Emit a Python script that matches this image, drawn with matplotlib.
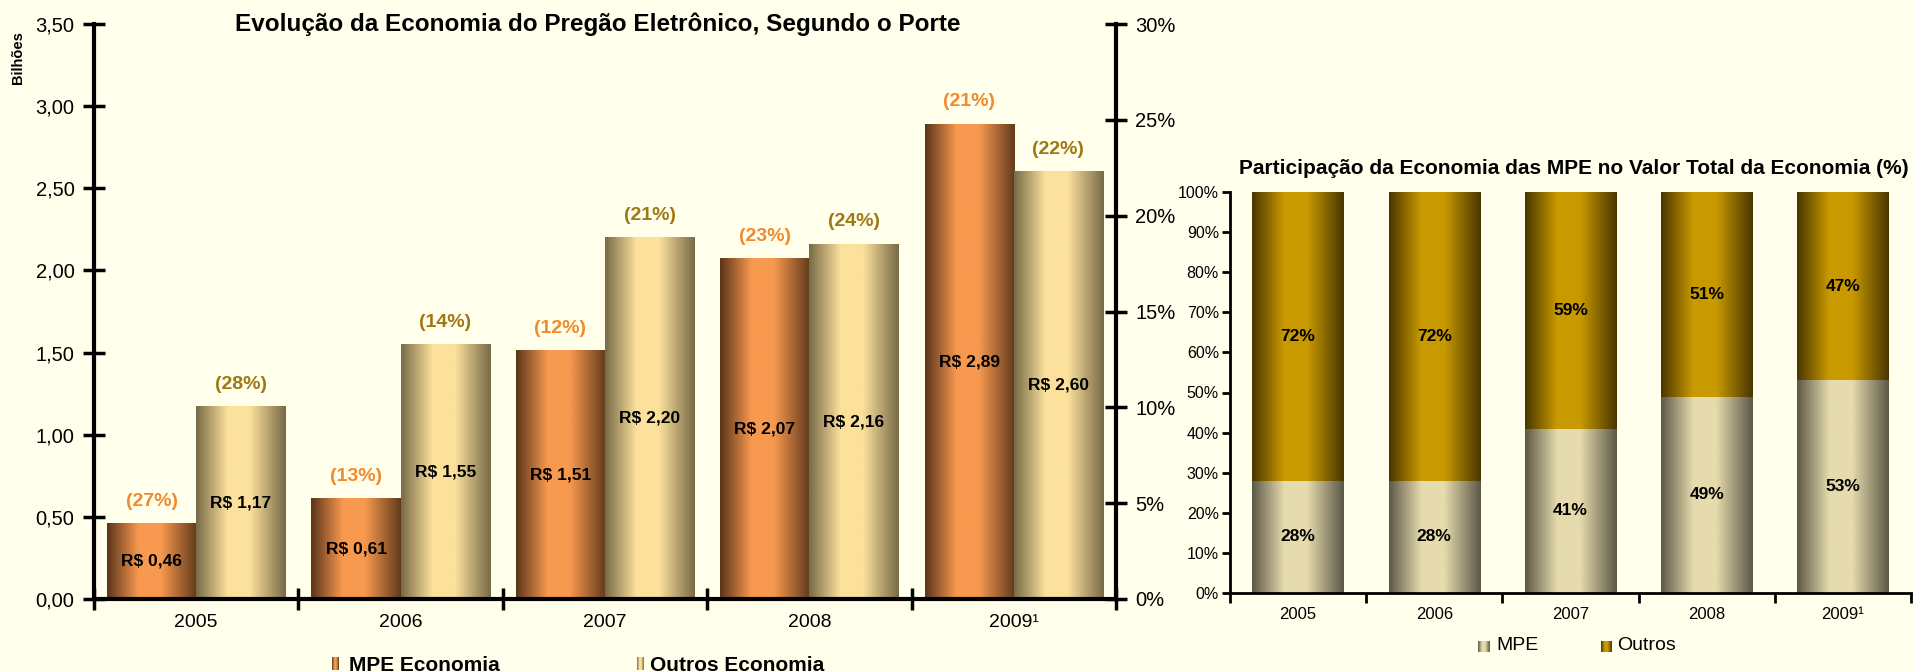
import numpy as np
import matplotlib
matplotlib.use('Agg')
import matplotlib.pyplot as plt
from matplotlib.colors import LinearSegmentedColormap
from matplotlib.ticker import FuncFormatter

plt.rcParams['font.family'] = ['Liberation Sans', 'DejaVu Sans']

# dados
anos = ['2005', '2006', '2007', '2008', '2009¹']
mpe_economia = [0.46, 0.61, 1.51, 2.07, 2.89]
outros_economia = [1.17, 1.55, 2.20, 2.16, 2.60]
mpe_var = ['(27%)', '(13%)', '(12%)', '(23%)', '(21%)']
outros_var = ['(28%)', '(14%)', '(21%)', '(24%)', '(22%)']
mpe_part = [28, 28, 41, 49, 53]
outros_part = [72, 72, 59, 51, 47]

fundo = '#FFFFEC'
W, H = 1915, 672


def cmap(nome, borda, centro, borda2=None):
    if borda2 is None:
        borda2 = borda
    return LinearSegmentedColormap.from_list(
        nome, [(0, borda), (0.35, centro), (0.6, centro), (1, borda2)])


cm_mpe = cmap('mpe', '#5A341A', '#F7994F', '#623A1C')
cm_out = cmap('out', '#786A48', '#FCE19C')
cm_mpe2 = cmap('mpe2', '#5C5847', '#E6DBAD')
cm_out2 = cmap('out2', '#493600', '#C99A00')

grad = np.linspace(0, 1, 256).reshape(1, -1)


def pinta(ax, barras, cm):
    for b in barras:
        x, y, w, h = b.get_x(), b.get_y(), b.get_width(), b.get_height()
        ax.imshow(grad, cmap=cm, extent=[x, x + w, y, y + h], aspect='auto',
                  interpolation='bilinear', zorder=2)


def fax(x0, y0, x1, y1):
    return fig.add_axes([x0 / W, 1 - y1 / H, (x1 - x0) / W, (y1 - y0) / H])


fig = plt.figure(figsize=(W / 100, H / 100), dpi=100, facecolor=fundo)

# grafico da esquerda
ax = fax(94, 24, 1116, 599)
ax.set_facecolor(fundo)
x = np.arange(len(anos))
w = 0.436
b1 = ax.bar(x - w / 2, mpe_economia, w, color='none', linewidth=0)
b2 = ax.bar(x + w / 2, outros_economia, w, color='none', linewidth=0)
pinta(ax, b1, cm_mpe)
pinta(ax, b2, cm_out)
ax.set_xlim(-0.5, len(anos) - 0.5)
ax.set_ylim(0, 3.5)

for b, v in zip(b1, mpe_economia):
    ax.text(b.get_x() + b.get_width() / 2, v / 2, 'R$ ' + f'{v:.2f}'.replace('.', ','),
            ha='center', va='center', fontsize=12.5, fontweight='bold', zorder=3)
for b, v in zip(b2, outros_economia):
    ax.text(b.get_x() + b.get_width() / 2, v / 2, 'R$ ' + f'{v:.2f}'.replace('.', ','),
            ha='center', va='center', fontsize=12.5, fontweight='bold', zorder=3)
for b, v, t in zip(b1, mpe_economia, mpe_var):
    ax.annotate(t, (b.get_x() + b.get_width() / 2, v), xytext=(0, 16), textcoords='offset points',
                ha='center', va='center', fontsize=14, fontweight='bold', color='#F08A2C')
for b, v, t in zip(b2, outros_economia, outros_var):
    ax.annotate(t, (b.get_x() + b.get_width() / 2, v), xytext=(0, 16), textcoords='offset points',
                ha='center', va='center', fontsize=14, fontweight='bold', color='#9E7812')

ax.set_yticks(np.arange(0, 3.51, 0.5))
ax.yaxis.set_major_formatter(FuncFormatter(lambda v, p: f'{v:.2f}'.replace('.', ',')))
ax.tick_params(axis='y', direction='inout', length=16, width=2.5, labelsize=14.5, pad=6)
ax.set_xticks(x)
ax.set_xticklabels(anos)
ax.set_xticks(np.arange(-0.5, len(anos), 1), minor=True)
ax.tick_params(axis='x', which='major', length=0, labelsize=14, pad=11)
ax.tick_params(axis='x', which='minor', direction='inout', length=16, width=2.5)
for s in ['top', 'right']:
    ax.spines[s].set_visible(False)
for s in ['left', 'bottom']:
    ax.spines[s].set_linewidth(3)

ax2 = ax.twinx()
ax2.set_ylim(0, 30)
ax2.set_yticks(range(0, 31, 5))
ax2.yaxis.set_major_formatter(FuncFormatter(lambda v, p: f'{v:.0f}%'))
ax2.tick_params(axis='y', direction='inout', length=16, width=2.5, labelsize=14.5, pad=6)
for s in ['top', 'left', 'bottom']:
    ax2.spines[s].set_visible(False)
ax2.spines['right'].set_linewidth(3)

fig.text(598 / W, 1 - 24 / H, 'Evolução da Economia do Pregão Eletrônico, Segundo o Porte',
         ha='center', va='center', fontsize=17.5, fontweight='bold')
fig.text(18 / W, 1 - 58 / H, 'Bilhões', rotation=90, ha='center', va='center',
         fontsize=10.5, fontweight='bold')

# legenda esquerda
lg1 = fax(332, 657, 339, 670)
lg1.imshow(grad, cmap=cm_mpe, aspect='auto')
lg1.axis('off')
lg2 = fax(637, 657, 644, 670)
lg2.imshow(grad, cmap=cm_out, aspect='auto')
lg2.axis('off')
fig.text(349 / W, 1 - 656 / H, 'MPE Economia', ha='left', va='top', fontsize=15, fontweight='bold')
fig.text(650 / W, 1 - 656 / H, 'Outros Economia', ha='left', va='top', fontsize=15, fontweight='bold')

# grafico da direita
axr = fax(1230, 192, 1911, 593)
axr.set_facecolor(fundo)
wr = 0.67
b3 = axr.bar(x, mpe_part, wr, color='none', linewidth=0)
b4 = axr.bar(x, outros_part, wr, bottom=mpe_part, color='none', linewidth=0)
pinta(axr, b3, cm_mpe2)
pinta(axr, b4, cm_out2)
axr.set_xlim(-0.5, len(anos) - 0.5)
axr.set_ylim(0, 100)

for b, v in zip(b3, mpe_part):
    axr.text(b.get_x() + b.get_width() / 2, v / 2, f'{v}%', ha='center', va='center',
             fontsize=12.5, fontweight='bold', zorder=3)
for b, base, v in zip(b4, mpe_part, outros_part):
    axr.text(b.get_x() + b.get_width() / 2, base + v / 2, f'{v}%', ha='center', va='center',
             fontsize=12.5, fontweight='bold', zorder=3)

axr.set_yticks(range(0, 101, 10))
axr.yaxis.set_major_formatter(FuncFormatter(lambda v, p: f'{v:.0f}%'))
axr.tick_params(axis='y', direction='out', length=6, width=2, labelsize=11.5, pad=2)
axr.set_xticks(x)
axr.set_xticklabels(anos)
axr.set_xticks(np.arange(-0.5, len(anos), 1), minor=True)
axr.tick_params(axis='x', which='major', length=0, labelsize=12, pad=10)
axr.tick_params(axis='x', which='minor', direction='out', length=7, width=2)
for s in ['top', 'right']:
    axr.spines[s].set_visible(False)
for s in ['left', 'bottom']:
    axr.spines[s].set_linewidth(2)

fig.text(1574 / W, 1 - 169 / H, 'Participação da Economia das MPE no Valor Total da Economia (%)',
         ha='center', va='center', fontsize=15, fontweight='bold')

lg3 = fax(1478, 641, 1490, 652)
lg3.imshow(grad, cmap=cm_mpe2, aspect='auto')
lg3.axis('off')
lg4 = fax(1601, 641, 1612, 652)
lg4.imshow(grad, cmap=cm_out2, aspect='auto')
lg4.axis('off')
fig.text(1496 / W, 1 - 646 / H, 'MPE', ha='left', va='center', fontsize=14)
fig.text(1617 / W, 1 - 646 / H, 'Outros', ha='left', va='center', fontsize=14)

fig.savefig('out.png', dpi=100, facecolor=fundo)
